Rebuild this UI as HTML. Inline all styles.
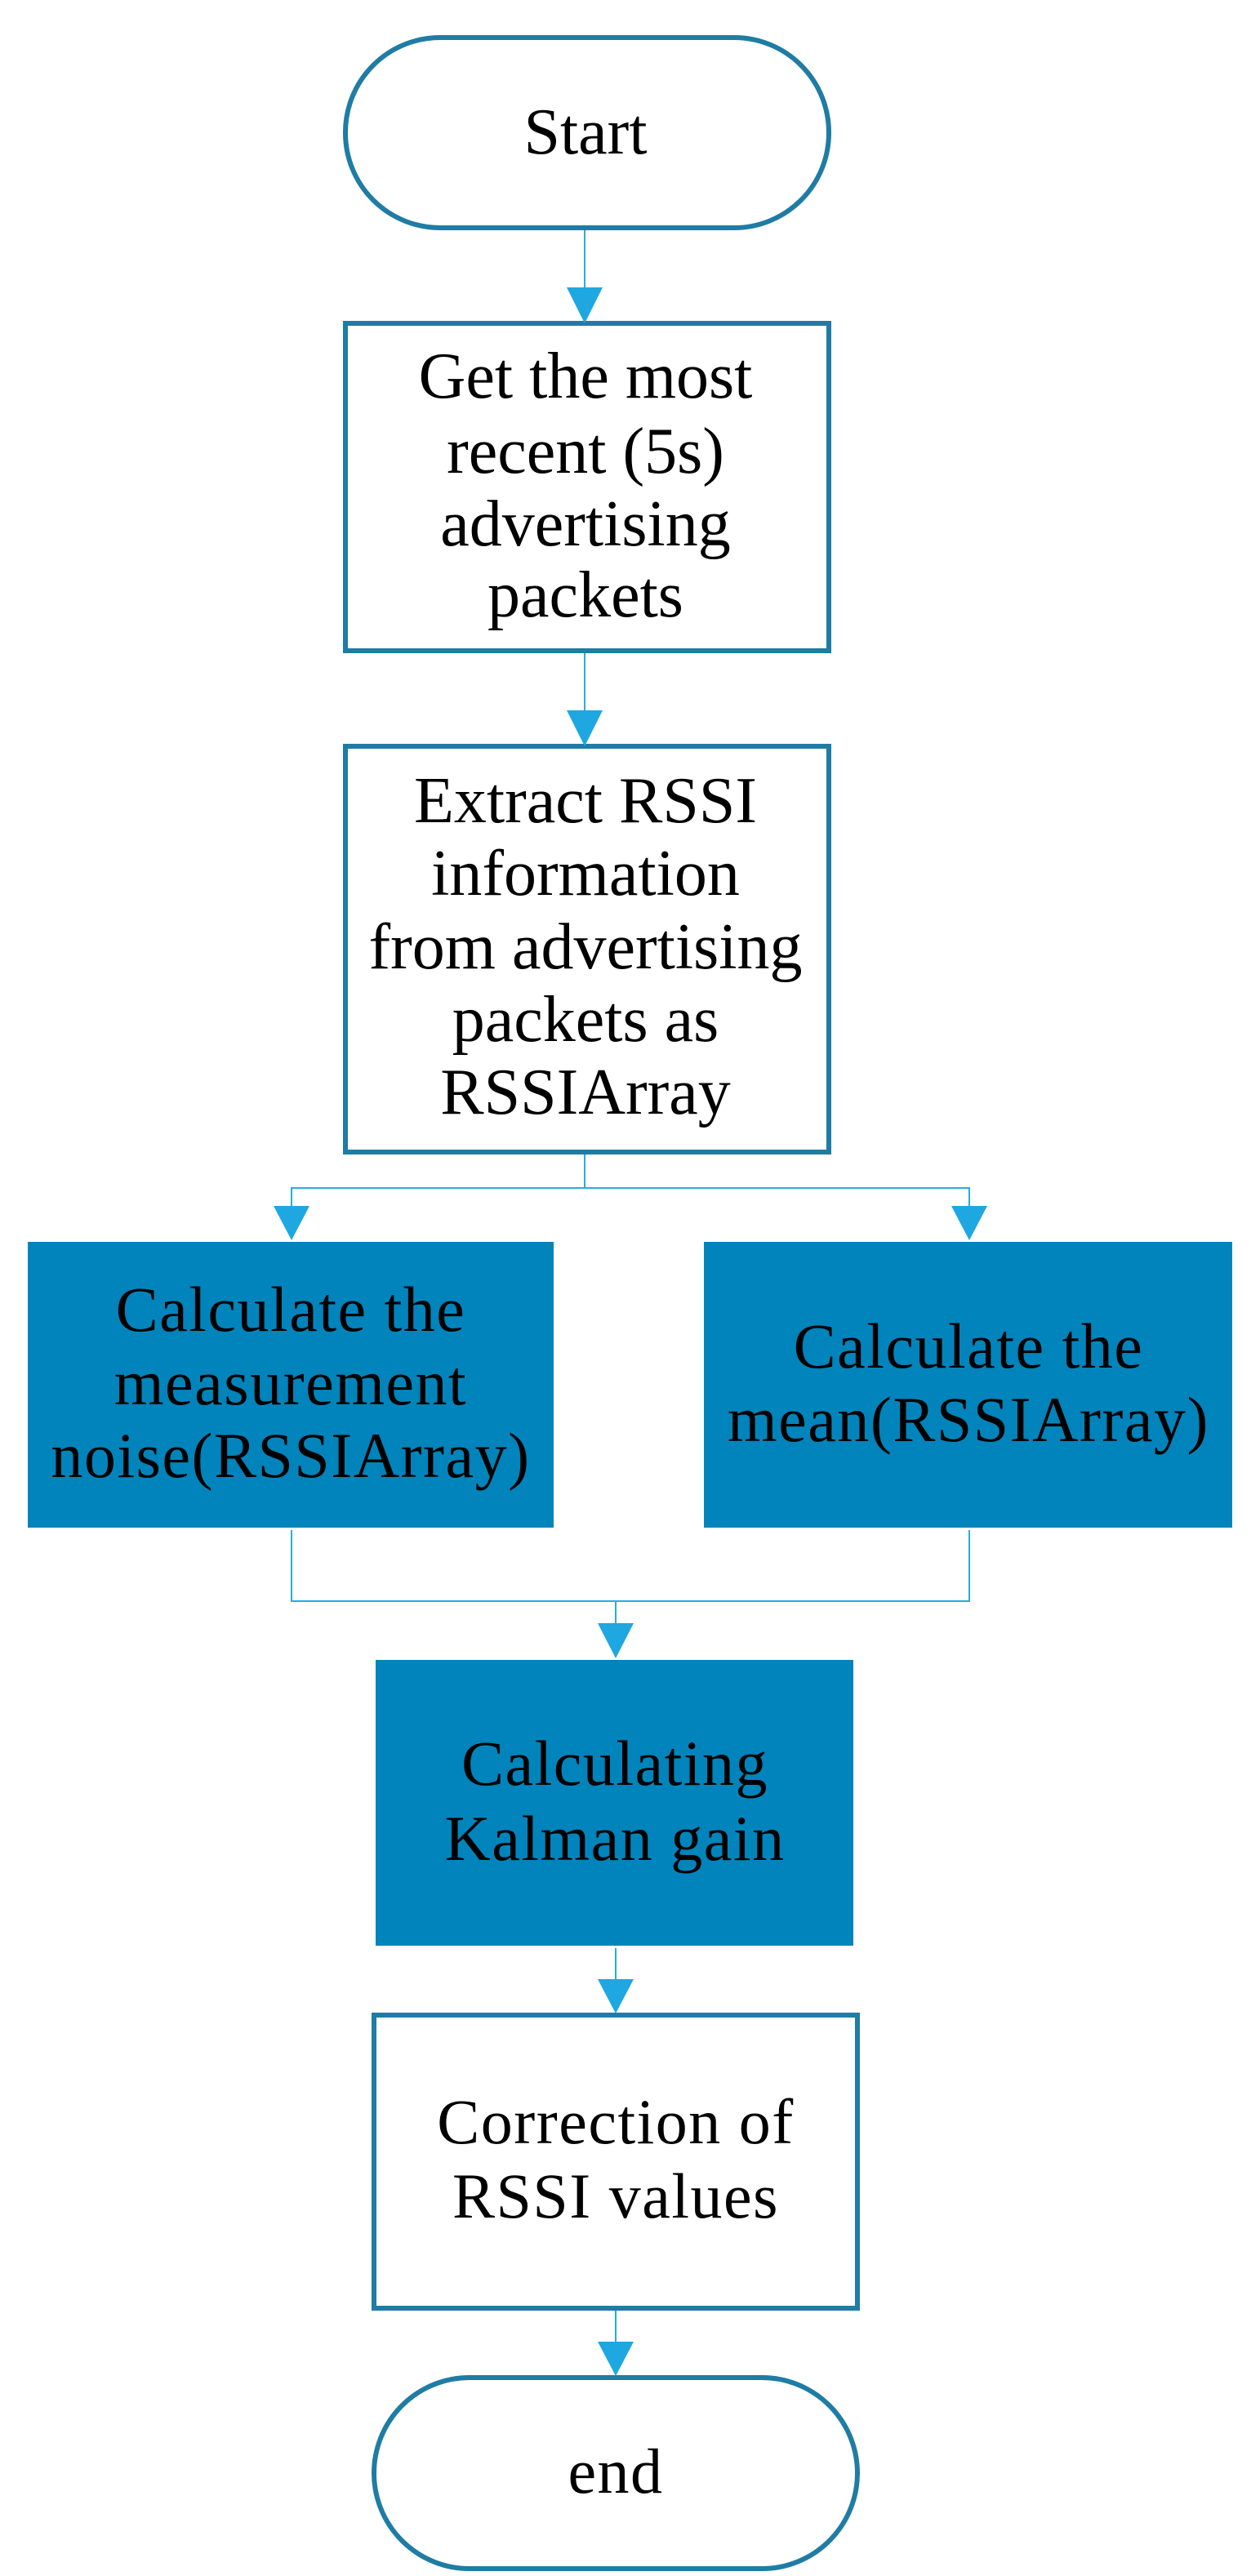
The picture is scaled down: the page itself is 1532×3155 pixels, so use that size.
<!DOCTYPE html>
<html><head><meta charset="utf-8"><style>
html,body{margin:0;padding:0;background:#fff;}
svg{display:block}
text{font-family:"Liberation Serif",serif;font-size:80px;fill:#000;text-anchor:middle;}
text.f{letter-spacing:1.5px;font-size:78px;}
</style></head><body>
<svg width="1532" height="3155" viewBox="0 0 1532 3155" xmlns="http://www.w3.org/2000/svg">
<g fill="none" stroke="#1f7ca4" stroke-width="6">
<rect x="423" y="46" width="592" height="233" rx="116" ry="116"/>
<rect x="423" y="396" width="592" height="401"/>
<rect x="423" y="914" width="592" height="497"/>
<rect x="458" y="2468" width="592" height="359"/>
<rect x="458" y="2912" width="592" height="234" rx="117" ry="117"/>
</g>
<rect x="34" y="1521" width="644" height="350" fill="#0084bb"/>
<rect x="862" y="1521" width="647" height="350" fill="#0084bb"/>
<rect x="460" y="2033" width="585" height="350" fill="#0084bb"/>
<g stroke="#29abe2" stroke-width="2" fill="none">
<line x1="716" y1="282" x2="716" y2="360"/>
<line x1="716" y1="800" x2="716" y2="880"/>
<polyline points="716,1414 716,1455 357,1455 357,1480"/>
<polyline points="716,1455 1187,1455 1187,1480"/>
<polyline points="357,1874 357,1961 1187,1961 1187,1874"/>
<line x1="754" y1="1961" x2="754" y2="1995"/>
<line x1="754" y1="2386" x2="754" y2="2435"/>
<line x1="754" y1="2830" x2="754" y2="2880"/>
</g>
<g fill="#1ea7e1">
<polygon points="694,352 738,352 716,396"/>
<polygon points="694,870 738,870 716,914"/>
<polygon points="335,1477 379,1477 357,1519"/>
<polygon points="1165,1477 1209,1477 1187,1519"/>
<polygon points="732,1988 776,1988 754,2031"/>
<polygon points="732,2424 776,2424 754,2466"/>
<polygon points="732,2868 776,2868 754,2910"/>
</g>
<text x="717" y="188">Start</text>
<text x="717" y="487">Get the most</text>
<text x="717" y="579">recent (5s)</text>
<text x="717" y="668">advertising</text>
<text x="717" y="755">packets</text>
<text x="717" y="1007">Extract RSSI</text>
<text x="717" y="1096">information</text>
<text x="717" y="1186">from advertising</text>
<text x="717" y="1275">packets as</text>
<text x="717" y="1364">RSSIArray</text>
<text class="f" x="356" y="1630">Calculate the</text>
<text class="f" x="356" y="1720">measurement</text>
<text class="f" x="356" y="1809">noise(RSSIArray)</text>
<text class="f" x="1186" y="1675">Calculate the</text>
<text class="f" x="1186" y="1765">mean(RSSIArray)</text>
<text class="f" x="753" y="2186">Calculating</text>
<text class="f" x="753" y="2278">Kalman gain</text>
<text class="f" x="754" y="2625">Correction of</text>
<text class="f" x="754" y="2716">RSSI values</text>
<text class="f" x="754" y="3053">end</text>
</svg>
</body></html>
